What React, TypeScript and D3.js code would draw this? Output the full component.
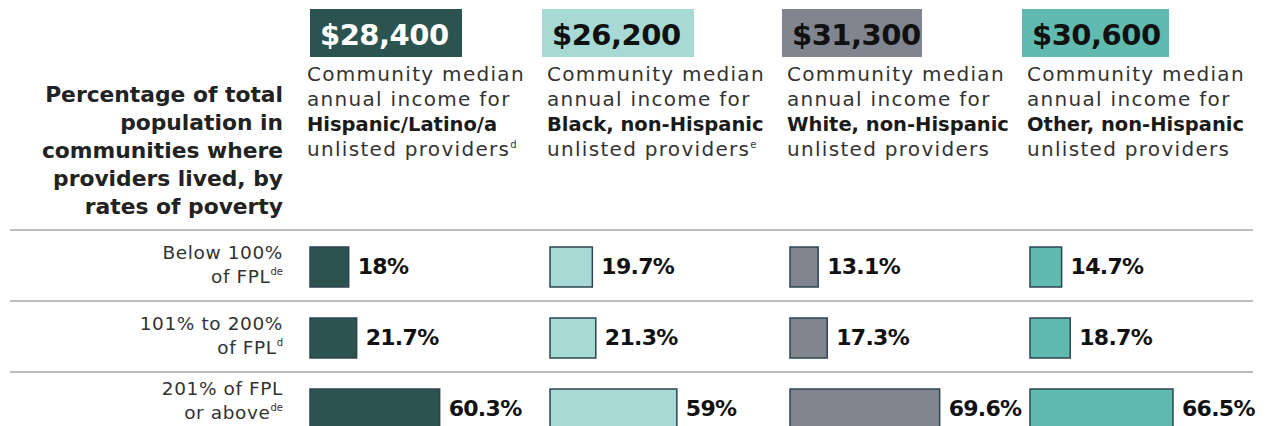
import React from 'react'
import * as d3 from 'd3'

// column groups and their header data
const groups = ['Hispanic/Latino/a', 'Black, non-Hispanic', 'White, non-Hispanic', 'Other, non-Hispanic']
const incomes = ['$28,400', '$26,200', '$31,300', '$30,600']
const groupNotes = ['d', 'e', '', '']
const colors = ['#2b534f', '#a8dad5', '#80858f', '#61bab0']
const incomeTextColors = ['#ffffff', '#111111', '#111111', '#111111']

// rows (poverty levels)
const rows = ['below100', '101to200', 'above201']
const rowLines1 = ['Below 100%', '101% to 200%', '201% of FPL']
const rowLines2 = ['of FPL', 'of FPL', 'or above']
const rowNotes = ['de', 'd', 'de']

// values[group][row]
const hispanic = [18, 21.7, 60.3]
const black = [19.7, 21.3, 59]
const white = [13.1, 17.3, 69.6]
const other = [14.7, 18.7, 66.5]
const values = [hispanic, black, white, other]

const titleLines = [
    'Percentage of total',
    'population in',
    'communities where',
    'providers lived, by',
    'rates of poverty',
]

const FONT = "'DejaVu Sans', sans-serif"

export default function App() {
    const width = 1268
    const height = 426

    const x = d3.scaleBand().domain(groups).range([310, 1270]).paddingInner(0)
    const y = d3.scaleBand().domain(rows).range([230, 443])
    const w = d3.scaleLinear().domain([0, 100]).range([0, 215])

    return (
        <svg
            width={width}
            height={height}
            style={{ position: 'absolute', left: 0, top: 0, background: '#fff' }}
            fontFamily={FONT}
        >
            {/* left title */}
            <g fontWeight='bold' fontSize='21.8' fill='#222' textAnchor='end'>
                {titleLines.map((t, i) => (
                    <text key={t} x={283} y={102 + i * 28}>
                        {t}
                    </text>
                ))}
            </g>

            {/* column headers */}
            {groups.map((g, i) => {
                const x0 = x(g)
                const bx = i === 0 ? x0 : x0 - 8
                return (
                    <g key={g}>
                        <rect x={bx} y={9} width={i === 2 ? 140 : i === 3 ? 147 : 152} height={48} fill={colors[i]} />
                        <text
                            x={bx + 10}
                            y={45}
                            fontSize='29'
                            fontWeight='bold'
                            fill={incomeTextColors[i]}
                            letterSpacing='-0.5'
                        >
                            {incomes[i]}
                        </text>
                        <g fontSize='20' fill='#333' letterSpacing='1.3'>
                            <text x={x0 - 3} y={81}>Community median</text>
                            <text x={x0 - 3} y={106}>annual income for</text>
                            <text x={x0 - 3} y={131} fontWeight='bold' fill='#1a1a1a' fontSize='19.5' letterSpacing='0'>
                                {g}
                            </text>
                            <text x={x0 - 3} y={156}>
                                unlisted providers
                                {groupNotes[i] && (
                                    <tspan fontSize='10' dy='-8' letterSpacing='0'>
                                        {groupNotes[i]}
                                    </tspan>
                                )}
                            </text>
                        </g>
                    </g>
                )
            })}

            {/* row separators */}
            {rows.map(r => (
                <line key={r} x1={10} x2={1253} y1={y(r)} y2={y(r)} stroke='#a3a8ad' strokeWidth={1.5} />
            ))}

            {/* row labels */}
            {rows.map((r, i) => {
                const b2 = Math.min(y(r) + 53, 419)
                return (
                    <g key={r} fontSize='18.5' fill='#333' textAnchor='end' letterSpacing='0.6'>
                        <text x={283} y={b2 - 24}>
                            {rowLines1[i]}
                        </text>
                        <text x={283} y={b2}>
                            {rowLines2[i]}
                            <tspan fontSize='10' dy='-8' letterSpacing='0'>
                                {rowNotes[i]}
                            </tspan>
                        </text>
                    </g>
                )
            })}

            {/* bars */}
            {groups.map((g, gi) =>
                rows.map((r, ri) => {
                    const v = values[gi][ri]
                    const bx = x(g)
                    const by = y(r) + 17
                    return (
                        <g key={g + r}>
                            <rect
                                x={bx}
                                y={by}
                                width={w(v)}
                                height={40}
                                fill={colors[gi]}
                                stroke='#2d4450'
                                strokeWidth={1.5}
                            />
                            <text
                                x={bx + w(v) + 9}
                                y={by + 21}
                                dominantBaseline='middle'
                                fontSize='22'
                                fontWeight='bold'
                                fill='#111'
                                letterSpacing='-0.7'
                            >
                                {v}%
                            </text>
                        </g>
                    )
                })
            )}
        </svg>
    )
}
